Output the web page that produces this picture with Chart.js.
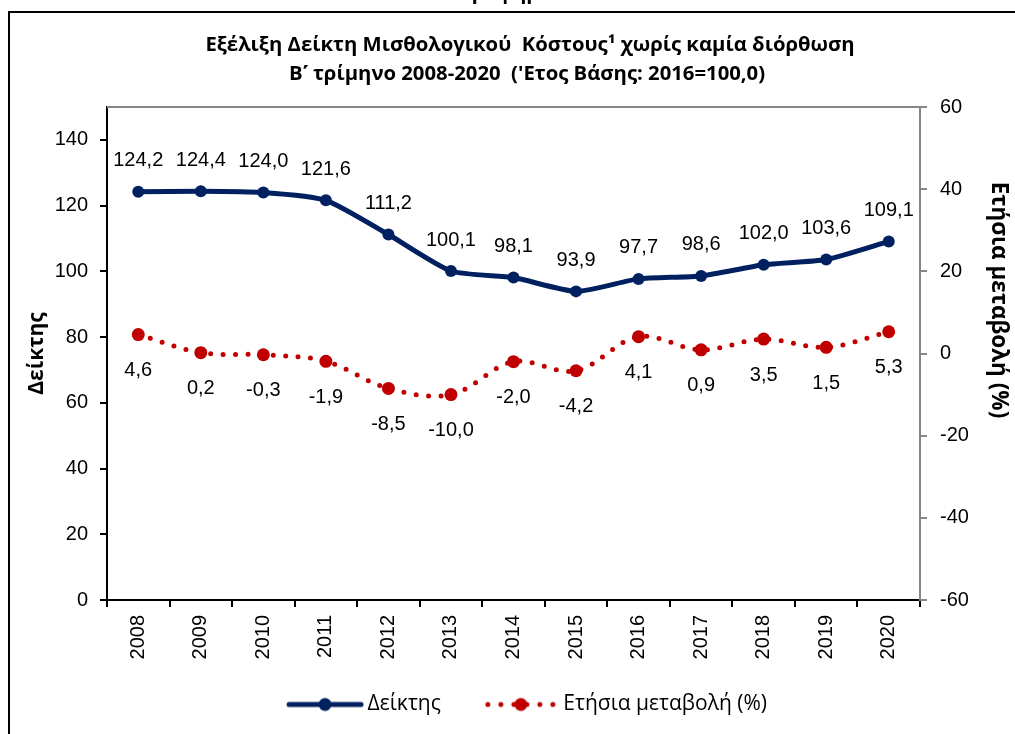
<!DOCTYPE html>
<html lang="el">
<head>
<meta charset="utf-8">
<title>Δείκτης Μισθολογικού Κόστους</title>
<script src="https://cdn.jsdelivr.net/npm/chart.js@4.4.1/dist/chart.umd.min.js"></script>
<style>
  html, body { margin: 0; padding: 0; background: #fff; overflow: hidden; width: 1015px; height: 734px; }
  #frame { position: absolute; left: 8px; top: 11px; width: 1100px; height: 800px; border: 2px solid #000; box-sizing: border-box; }
  #wrap { position: absolute; left: 0; top: 0; width: 1015px; height: 734px; }
</style>
</head>
<body>
<div id="frame"></div>
<div id="wrap"><canvas id="costChart" width="1015" height="734"></canvas></div>
<script>
// Δεδομένα: Β΄ τρίμηνο κάθε έτους
const years = ["2008", "2009", "2010", "2011", "2012", "2013", "2014", "2015", "2016", "2017", "2018", "2019", "2020"];
const indexValues = [124.2, 124.4, 124.0, 121.6, 111.2, 100.1, 98.1, 93.9, 97.7, 98.6, 102.0, 103.6, 109.1];
const annualChange = [4.6, 0.2, -0.3, -1.9, -8.5, -10.0, -2.0, -4.2, 4.1, 0.9, 3.5, 1.5, 5.3];
const indexTicks = [0, 20, 40, 60, 80, 100, 120, 140];
const changeTicks = [-60, -40, -20, 0, 20, 40, 60];

const titleLines = [
  "Εξέλιξη Δείκτη Μισθολογικού  Κόστους¹ χωρίς καμία διόρθωση",
  "Β\u0374 τρίμηνο 2008-2020  ('Ετος Βάσης: 2016=100,0)"
];

const BLUE = "#002060";
const RED = "#C00000";
const ARIAL = "'Liberation Sans', Arial, sans-serif";
const HUMAN = "'Open Sans', 'Noto Sans', sans-serif";

// εικονίδια υπομνήματος (διαφανές κενό αριστερά για την απόσταση μεταξύ στοιχείων)
function legendMark(color, dotted) {
  const c = document.createElement("canvas");
  c.width = 100; c.height = 16;
  const g = c.getContext("2d");
  g.strokeStyle = color;
  g.fillStyle = color;
  g.lineWidth = 5;
  g.lineCap = "round";
  if (dotted) g.setLineDash([0, 13]);
  g.beginPath();
  g.moveTo(dotted ? 28 : 25, 8);
  g.lineTo(dotted ? 94 : 97, 8);
  g.stroke();
  g.beginPath();
  g.arc(61, 8, 6.5, 0, Math.PI * 2);
  g.fill();
  return c;
}
const legendMarks = [legendMark(BLUE, false), legendMark(RED, true)];

const fmt = v => v.toFixed(1).replace(".", ",");

const decor = {
  id: "decor",
  beforeDatasetsDraw(chart) {
    const { ctx, chartArea: a } = chart;
    ctx.save();
    ctx.strokeStyle = "#868686";
    ctx.lineWidth = 2;
    ctx.beginPath();
    ctx.moveTo(a.left, a.top);
    ctx.lineTo(a.right, a.top);
    ctx.stroke();
    ctx.restore();
  },
  afterDatasetsDraw(chart) {
    const ctx = chart.ctx;
    ctx.save();
    ctx.font = "20px " + ARIAL;
    ctx.fillStyle = "#000";
    ctx.textAlign = "center";
    ctx.textBaseline = "middle";
    chart.data.datasets.forEach((ds, i) => {
      chart.getDatasetMeta(i).data.forEach((pt, j) => {
        ctx.fillText(fmt(ds.data[j]), pt.x, pt.y + ds.labelShift);
      });
    });
    ctx.restore();
  },
  afterDraw(chart) {
    const ctx = chart.ctx;
    const a = chart.chartArea;
    ctx.save();
    ctx.fillStyle = "#000";
    ctx.textAlign = "center";
    ctx.textBaseline = "middle";
    // τίτλος
    ctx.font = "bold 20.3px " + HUMAN;
    ctx.fillText(titleLines[0], 530, 45);
    ctx.fillText(titleLines[1], 527, 74);
    // κομμένος τίτλος γραφήματος πάνω από το πλαίσιο
    ctx.textBaseline = "alphabetic";
    ctx.font = "bold 20px " + HUMAN;
    ctx.fillText("Γράφημα 1", 515, -1);
    // τίτλοι αξόνων
    ctx.textBaseline = "middle";
    ctx.font = "bold 21px " + HUMAN;
    ctx.translate(37, (a.top + a.bottom) / 2);
    ctx.rotate(-Math.PI / 2);
    ctx.fillText("Δείκτης", 0, 0);
    ctx.setTransform(1, 0, 0, 1, 0, 0);
    ctx.font = "bold 22.5px " + HUMAN;
    ctx.translate(998, 300);
    ctx.rotate(Math.PI / 2);
    ctx.fillText("Ετήσια μεταβολή (%)", 0, 0);
    ctx.restore();
  }
};

const ctx = document.getElementById("costChart").getContext("2d");
new Chart(ctx, {
  type: "line",
  data: {
    labels: years,
    datasets: [{
      label: "Δείκτης",
      data: indexValues,
      yAxisID: "y",
      borderColor: BLUE,
      backgroundColor: BLUE,
      borderWidth: 5,
      pointRadius: 6,
      pointHoverRadius: 6,
      pointBorderWidth: 0,
      tension: 0.2,
      labelShift: -31,
      fill: false
    }, {
      label: "Ετήσια μεταβολή (%)",
      data: annualChange,
      yAxisID: "y1",
      borderColor: RED,
      backgroundColor: RED,
      borderWidth: 5,
      borderDash: [0, 12.5],
      borderCapStyle: "round",
      pointRadius: 6.5,
      pointHoverRadius: 6.5,
      pointBorderWidth: 0,
      tension: 0.35,
      labelShift: 36,
      fill: false
    }]
  },
  options: {
    responsive: false,
    animation: false,
    layout: { padding: { top: 107, left: 23, right: 0, bottom: 9 } },
    plugins: {
      title: { display: false },
      tooltip: { enabled: false },
      legend: {
        position: "bottom",
        labels: {
          usePointStyle: true,
          pointStyleWidth: 86,
          padding: 26,
          color: "#000",
          font: { size: 21, family: HUMAN },
          generateLabels(chart) {
            const items = Chart.defaults.plugins.legend.labels.generateLabels(chart);
            items.forEach((it, i) => { it.pointStyle = legendMarks[i]; });
            return items;
          }
        }
      }
    },
    scales: {
      x: {
        offset: true,
        afterFit: s => { s.height = 68; },
        grid: { offset: true, drawOnChartArea: false, drawTicks: true, tickLength: 7, color: "#000", lineWidth: 2 },
        border: { display: true, color: "#000", width: 2 },
        ticks: { minRotation: 90, maxRotation: 90, padding: 8, color: "#000", font: { size: 20, family: ARIAL } }
      },
      y: {
        position: "left",
        min: 0,
        max: 150,
        afterBuildTicks: s => { s.ticks = indexTicks.map(v => ({ value: v })); },
        afterFit: s => { s.width = 84; },
        grid: { drawOnChartArea: false, drawTicks: true, tickLength: 7, color: "#000", lineWidth: 2 },
        border: { display: true, color: "#000", width: 2 },
        ticks: { padding: 12, color: "#000", font: { size: 20, family: ARIAL } }
      },
      y1: {
        position: "right",
        min: -60,
        max: 60,
        afterBuildTicks: s => { s.ticks = changeTicks.map(v => ({ value: v })); },
        afterFit: s => { s.width = 95; },
        grid: { drawOnChartArea: false, drawTicks: true, tickLength: 7, color: "#868686", lineWidth: 2 },
        border: { display: true, color: "#868686", width: 2 },
        ticks: { padding: 13, color: "#000", font: { size: 20, family: ARIAL } }
      }
    }
  },
  plugins: [decor]
});
</script>
</body>
</html>
